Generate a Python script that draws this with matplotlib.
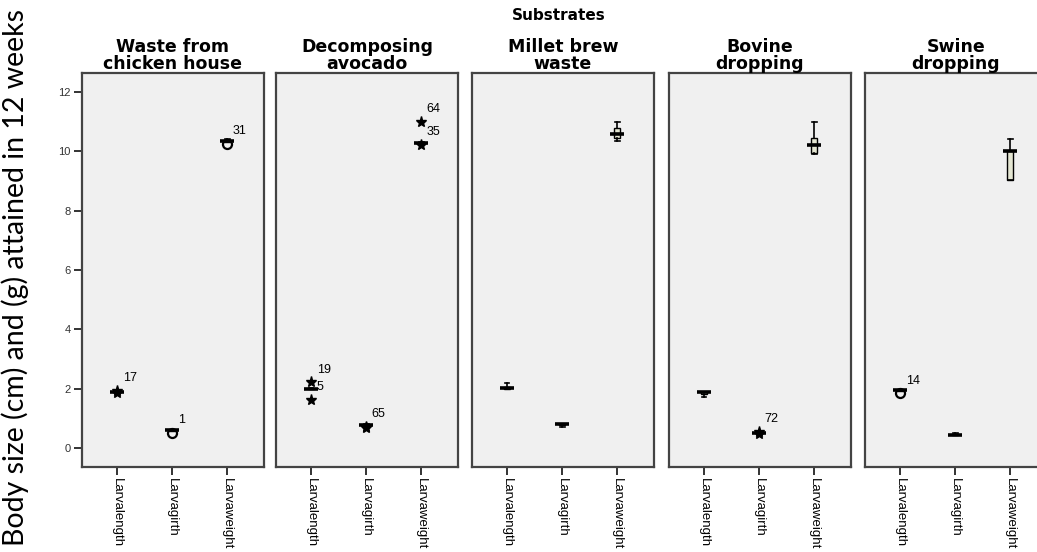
import numpy as np
import matplotlib.pyplot as plt

# substrates (panels) and measured variables (x categories)
substrates = ['Waste from\nchicken house', 'Decomposing\navocado', 'Millet brew\nwaste',
              'Bovine\ndropping', 'Swine\ndropping']
variables = ['Larvalength', 'Larvagirth', 'Larvaweight']

# box statistics per substrate: [length, girth, weight]
medians = [[1.90, 0.60, 10.35],
           [2.00, 0.76, 10.27],
           [2.02, 0.80, 10.60],
           [1.88, 0.52, 10.22],
           [1.95, 0.45, 10.00]]
q1s = [[1.88, 0.58, 10.33],
       [1.98, 0.73, 10.25],
       [2.00, 0.78, 10.45],
       [1.82, 0.49, 9.95],
       [1.93, 0.43, 9.05]]
q3s = [[1.92, 0.61, 10.37],
       [2.02, 0.78, 10.29],
       [2.06, 0.82, 10.80],
       [1.88, 0.54, 10.45],
       [1.97, 0.47, 10.02]]
whis_lo = [[1.88, 0.56, 10.33],
           [1.98, 0.72, 10.25],
           [2.00, 0.70, 10.35],
           [1.72, 0.48, 9.92],
           [1.93, 0.43, 9.05]]
whis_hi = [[1.92, 0.61, 10.40],
           [2.02, 0.80, 10.30],
           [2.20, 0.82, 10.99],
           [1.88, 0.55, 10.99],
           [1.97, 0.50, 10.42]]

# outliers / extremes: substrate, variable, value, kind, case label
out_panel = [0, 0, 0, 0, 1, 1, 1, 1, 1, 1, 3, 3, 4]
out_var = [0, 0, 1, 2, 0, 0, 1, 1, 2, 2, 1, 1, 0]
out_value = [1.93, 1.86, 0.52, 10.25, 2.22, 1.62, 0.72, 0.66, 10.22, 10.99, 0.55, 0.47, 1.85]
out_kind = ['*', '*', 'o', 'o', '*', '*', '*', '*', '*', '*', '*', '*', 'o']
out_label = ['17', '', '1', '31', '19', '5', '65', '', '35', '64', '72', '', '14']

yticks = [0, 2, 4, 6, 8, 10, 12]

W, H = 1037, 552
fig = plt.figure(figsize=(W / 100, H / 100), dpi=100)

lefts = [82, 276, 472, 669, 865]
pw = 182
top, bot = 73, 467

for i, name in enumerate(substrates):
    ax = fig.add_axes([lefts[i] / W, (H - bot) / H, pw / W, (bot - top) / H])
    ax.set_facecolor('#f0f0f0')
    for s in ax.spines.values():
        s.set_color('#444444')
        s.set_linewidth(1.6)

    stats = []
    for j in range(3):
        stats.append(dict(med=medians[i][j], q1=q1s[i][j], q3=q3s[i][j],
                          whislo=whis_lo[i][j], whishi=whis_hi[i][j], fliers=[]))
    pos = np.arange(1, 4)
    ax.bxp(stats, positions=pos, widths=0.11, capwidths=0.09, patch_artist=True,
           showfliers=False,
           boxprops=dict(facecolor='#e4e6d2', edgecolor='black', linewidth=1),
           whiskerprops=dict(color='black', linewidth=1.2),
           capprops=dict(color='black', linewidth=1.2),
           medianprops=dict(linewidth=0))
    ax.hlines(medians[i], pos - 0.13, pos + 0.13, color='black', linewidth=2.6)

    for p, v, val, k, lab in zip(out_panel, out_var, out_value, out_kind, out_label):
        if p != i:
            continue
        if k == 'o':
            ax.plot(v + 1, val, 'o', mfc='none', mec='black', mew=1.6, ms=6.5)
        else:
            ax.plot(v + 1, val, '*', color='black', ms=8)
        if lab:
            ax.annotate(lab, (v + 1, val), xytext=(4, 9), textcoords='offset points',
                        ha='left', va='center', fontsize=9, family='Liberation Sans')

    ax.set_xlim(0.364, 3.67)
    ax.set_ylim(-0.64, 12.64)
    ax.set_xticks(pos)
    ax.set_xticklabels(variables, rotation=270, fontsize=9.5, family='Liberation Sans')
    ax.tick_params(axis='x', direction='out', length=6, width=1.4, color='#333333', pad=2)
    if i == 0:
        ax.set_yticks(yticks)
        ax.set_yticklabels([str(t) for t in yticks], fontsize=8, color='#333333',
                           family='Liberation Sans')
        ax.tick_params(axis='y', direction='out', length=6, width=1.4, color='#333333', pad=2)
    else:
        ax.set_yticks([])

    ax.set_title(name, fontsize=12.5, fontweight='bold', family='DejaVu Sans',
                 pad=1, linespacing=0.9)

fig.text(559 / W, 1 - 15 / H, 'Substrates', ha='center', va='center',
         fontsize=11, fontweight='bold', family='DejaVu Sans')
fig.text(15 / W, 1 - 278 / H, 'Body size (cm) and (g) attained in 12 weeks', rotation=90,
         ha='center', va='center', fontsize=20.5, family='Lato')

fig.savefig('out.png', dpi=100)
